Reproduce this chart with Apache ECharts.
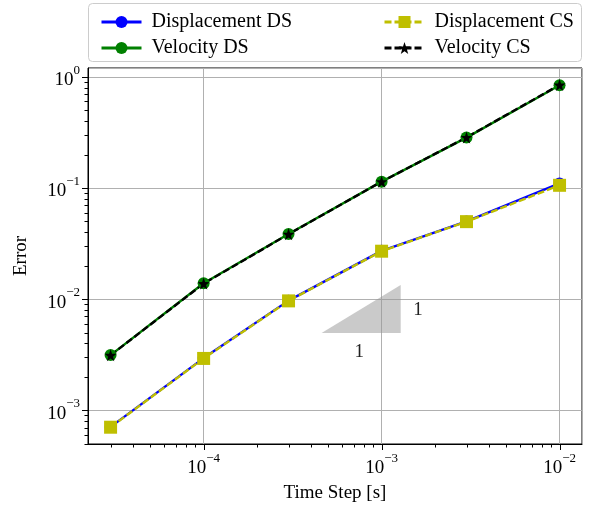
<!DOCTYPE html>
<html><head><meta charset="utf-8">
<script src="https://cdn.jsdelivr.net/npm/echarts@6/dist/echarts.min.js"></script>
<style>html,body{margin:0;padding:0;background:#fff}#c{width:591px;height:508px}</style>
</head><body><div id="c"></div>
<script>
// ---- data ----
const timeSteps = [3e-5, 1e-4, 3e-4, 1e-3, 3e-3, 1e-2];
const dispDS = [7.1e-4, 2.95e-3, 9.7e-3, 2.72e-2, 5.0e-2, 1.1e-1];
const velDS  = [3.14e-3, 1.39e-2, 3.85e-2, 1.14e-1, 2.84e-1, 8.4e-1];
const dispCS = [7.05e-4, 2.93e-3, 9.65e-3, 2.7e-2, 4.98e-2, 1.057e-1];
const velCS  = [3.13e-3, 1.38e-2, 3.84e-2, 1.14e-1, 2.85e-1, 8.45e-1];
const seriesNames = ['Displacement DS', 'Velocity DS', 'Displacement CS', 'Velocity CS'];
// axes
const xRange = [2.24e-5, 1.337e-2];
const yRange = [4.98e-4, 1.2];
const xMajorTicks = [1e-4, 1e-3, 1e-2];
const xTickLabels = ['−4', '−3', '−2'];
const yMajorTicks = [1e-3, 1e-2, 1e-1, 1];
const yTickLabels = ['−3', '−2', '−1', '0'];
const xMinorTicks = [3e-5,4e-5,5e-5,6e-5,7e-5,8e-5,9e-5, 2e-4,3e-4,4e-4,5e-4,6e-4,7e-4,8e-4,9e-4, 2e-3,3e-3,4e-3,5e-3,6e-3,7e-3,8e-3,9e-3];
const yMinorTicks = [5e-4,6e-4,7e-4,8e-4,9e-4, 2e-3,3e-3,4e-3,5e-3,6e-3,7e-3,8e-3,9e-3, 2e-2,3e-2,4e-2,5e-2,6e-2,7e-2,8e-2,9e-2, 2e-1,3e-1,4e-1,5e-1,6e-1,7e-1,8e-1,9e-1];
// slope triangle + annotations
const triangle = [[4.6e-4, 4.95e-3], [1.28e-3, 4.95e-3], [1.28e-3, 1.34e-2]];
const slopeLabels = [[1.6e-3, 8.0e-3, '1'], [7.5e-4, 3.35e-3, '1']];

const FONT = 'Liberation Serif';
const starPath = 'path://M0,-10L2.35,-3.24L9.51,-3.09L3.8,1.24L5.88,8.09L0,4L-5.88,8.09L-3.8,1.24L-9.51,-3.09L-2.35,-3.24Z';

function pow10Label(list, labels) {
  return function (v) {
    const l = Math.log10(v);
    for (let i = 0; i < list.length; i++) {
      if (Math.abs(Math.log10(list[i]) - l) < 1e-6) return '{b|10}{s|' + labels[i] + '}';
    }
    return '';
  };
}
const richLab = {
  b: {fontFamily: FONT, fontSize: 19, color: '#000', lineHeight: 26, verticalAlign: 'bottom'},
  s: {fontFamily: FONT, fontSize: 13, color: '#000', lineHeight: 26, verticalAlign: 'top'}
};

const chart = echarts.init(document.getElementById('c'));
function zip(a, b) { return a.map((v, i) => [v, b[i]]); }

const LW = 2.4;
const lineBase = {type: 'line', animation: false, z: 3};
const legendText = {fontFamily: FONT, fontSize: 20, color: '#000', lineHeight: 20, padding: [0, 0, 0, 5]};
chart.setOption({
  animation: false,
  grid: {left: 88, right: 9, top: 68, bottom: 62, show: true, borderColor: '#000', borderWidth: 1, backgroundColor: 'transparent'},
  graphic: [{type: 'rect', z: 0, shape: {x: 88.5, y: 3.5, width: 493, height: 58, r: 4},
    style: {fill: 'rgba(255,255,255,0.8)', stroke: '#cccccc', lineWidth: 1}}],
  legend: [
    {data: seriesNames.slice(0, 2), orient: 'vertical', left: 95, top: 7, itemWidth: 40, itemHeight: 15, itemGap: 6, z: 10,
     lineStyle: {width: 3}, textStyle: legendText},
    {data: seriesNames.slice(2, 4), orient: 'vertical', left: 378, top: 7, itemWidth: 40, itemHeight: 15, itemGap: 6, z: 10,
     lineStyle: {width: 3}, textStyle: legendText}
  ],
  xAxis: {type: 'log', logBase: 10, min: xRange[0], max: xRange[1],
    name: 'Time Step [s]', nameLocation: 'middle', nameGap: 40,
    nameTextStyle: {fontFamily: FONT, fontSize: 19, color: '#000'},
    axisLine: {show: true, lineStyle: {color: '#000', width: 1}},
    axisTick: {show: false}, minorTick: {show: false}, minorSplitLine: {show: false},
    splitLine: {show: true, lineStyle: {color: '#b0b0b0', width: 1}},
    axisLabel: {formatter: pow10Label(xMajorTicks, xTickLabels), rich: richLab, margin: 8, showMinLabel: true, showMaxLabel: true}},
  yAxis: {type: 'log', logBase: 10, min: yRange[0], max: yRange[1],
    name: 'Error', nameLocation: 'middle', nameGap: 57, nameRotate: 90,
    nameTextStyle: {fontFamily: FONT, fontSize: 19, color: '#000'},
    axisLine: {show: true, lineStyle: {color: '#000', width: 1}},
    axisTick: {show: false}, minorTick: {show: false}, minorSplitLine: {show: false},
    splitLine: {show: true, lineStyle: {color: '#b0b0b0', width: 1}},
    axisLabel: {formatter: pow10Label(yMajorTicks, yTickLabels), rich: richLab, margin: 8}},
  series: [
    {type: 'custom', z: 1, silent: true, clip: true,
     data: [0],
     renderItem: function (params, api) {
       const pts = triangle.map(p => api.coord(p));
       return {type: 'polygon', shape: {points: pts}, style: {fill: 'rgba(150,150,150,0.5)', stroke: 'none'}};
     }},
    {type: 'custom', z: 5, silent: true,
     data: slopeLabels.map(d => [d[0], d[1]]),
     renderItem: function (params, api) {
       const p = api.coord([api.value(0), api.value(1)]);
       return {type: 'text', x: p[0], y: p[1], style: {text: slopeLabels[params.dataIndex][2], fontFamily: FONT, fontSize: 19, fill: '#222', align: 'center', verticalAlign: 'middle'}};
     }},
    // ticks
    {type: 'custom', z: 5, silent: true, clip: false,
     data: xMajorTicks.map(v => [v, yRange[0], 6]).concat(xMinorTicks.map(v => [v, yRange[0], 3.5])),
     renderItem: function (params, api) {
       const p = api.coord([api.value(0), api.value(1)]);
       const len = api.value(2);
       const x = Math.round(p[0]) + 0.5;
       return {type: 'line', shape: {x1: x, y1: p[1], x2: x, y2: p[1] + len}, style: {stroke: '#000', lineWidth: 1}};
     }},
    {type: 'custom', z: 5, silent: true, clip: false,
     data: yMajorTicks.map(v => [xRange[0], v, 6]).concat(yMinorTicks.map(v => [xRange[0], v, 3.5])),
     renderItem: function (params, api) {
       const p = api.coord([api.value(0), api.value(1)]);
       const len = api.value(2);
       const y = Math.round(p[1]) + 0.5;
       return {type: 'line', shape: {x1: p[0], y1: y, x2: p[0] - len, y2: y}, style: {stroke: '#000', lineWidth: 1}};
     }},
    Object.assign({}, lineBase, {name: seriesNames[0], data: zip(timeSteps, dispDS), symbol: 'circle', symbolSize: 12,
      itemStyle: {color: '#0000ff'}, lineStyle: {color: '#0000ff', width: LW}}),
    Object.assign({}, lineBase, {name: seriesNames[1], data: zip(timeSteps, velDS), symbol: 'circle', symbolSize: 12,
      itemStyle: {color: '#008000'}, lineStyle: {color: '#008000', width: LW}}),
    Object.assign({}, lineBase, {name: seriesNames[2], data: zip(timeSteps, dispCS), symbol: 'rect', symbolSize: 13,
      itemStyle: {color: '#bfbf00'}, lineStyle: {color: '#bfbf00', width: LW, type: [7, 3]}}),
    Object.assign({}, lineBase, {name: seriesNames[3], data: zip(timeSteps, velCS), symbol: starPath, symbolSize: 12,
      itemStyle: {color: '#000000'}, lineStyle: {color: '#000000', width: LW, type: [7, 3]}})
  ]
});
</script>
</body></html>
